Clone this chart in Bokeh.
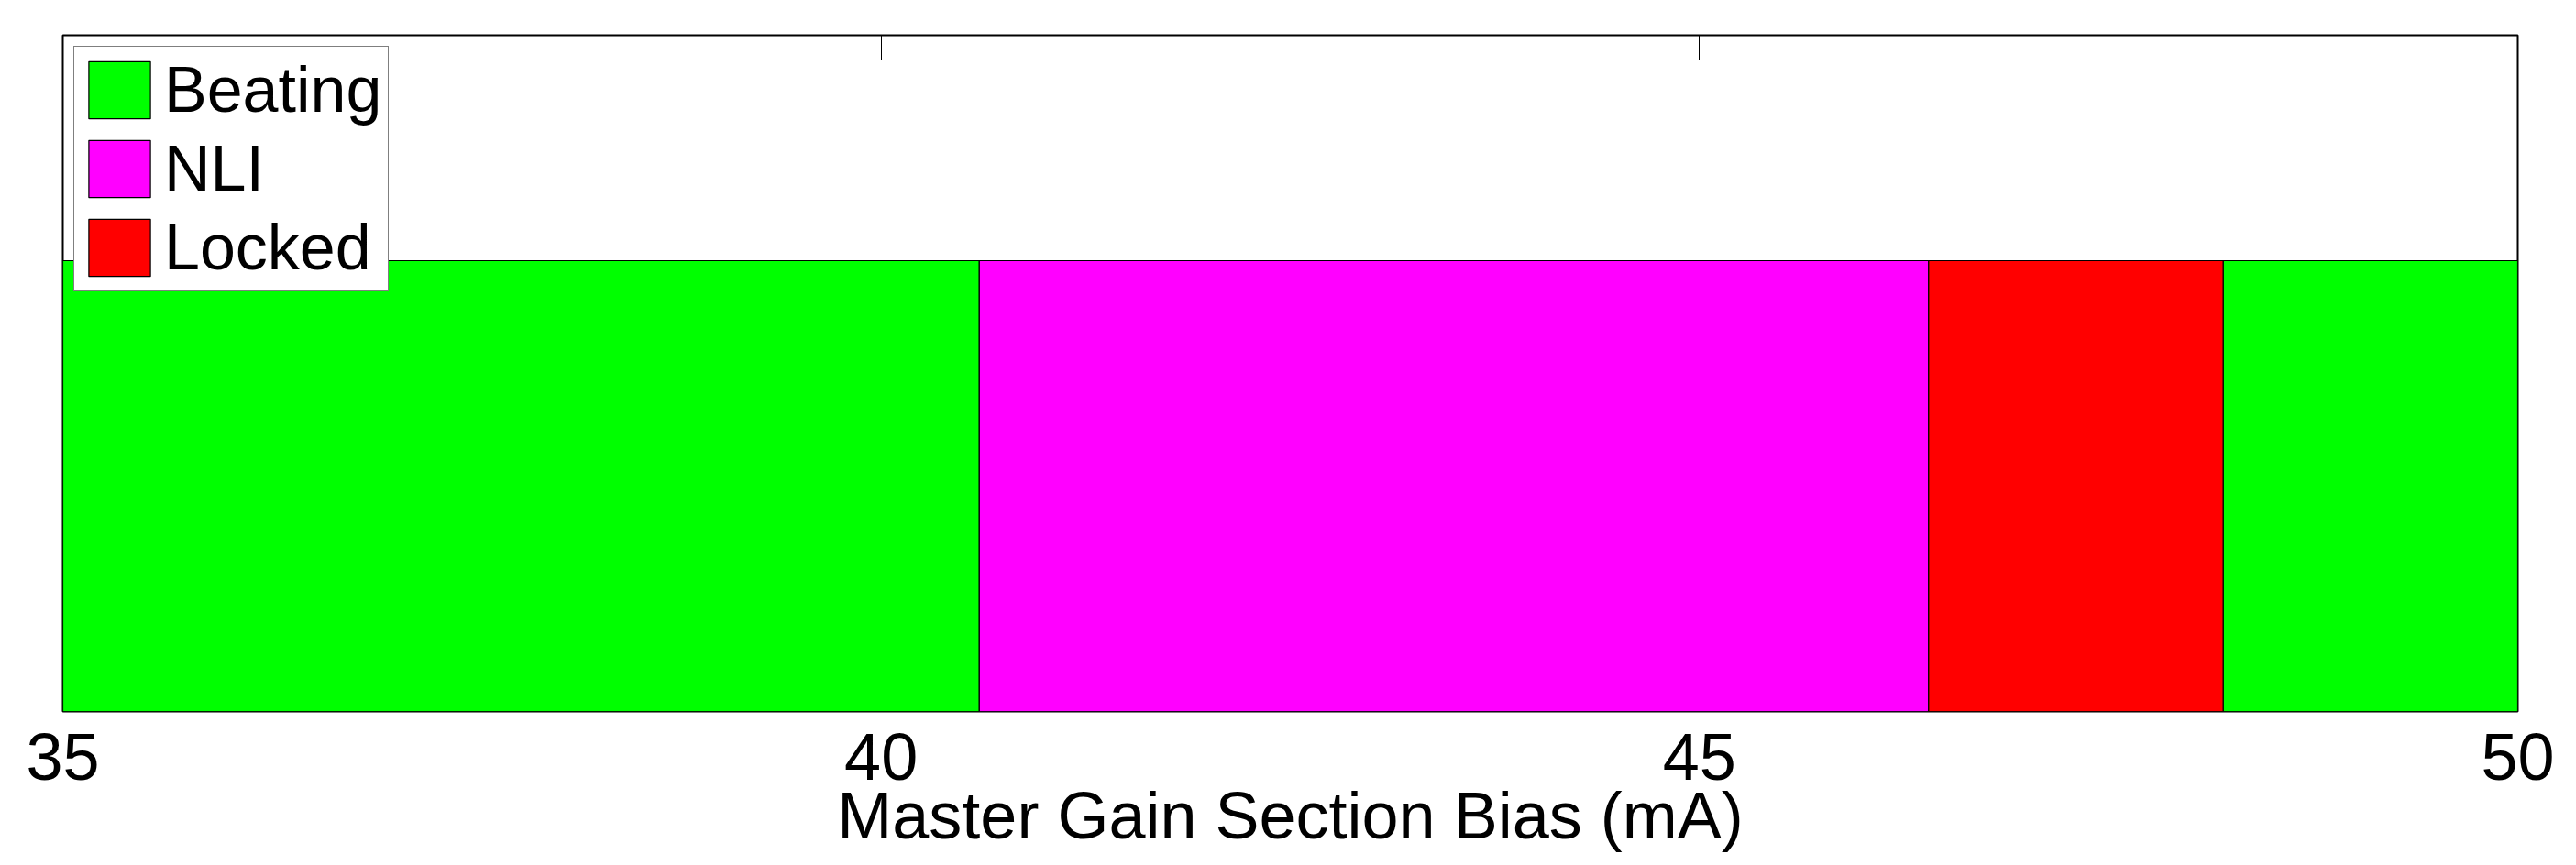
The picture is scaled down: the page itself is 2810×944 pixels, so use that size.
from bokeh.plotting import figure
from bokeh.models import Range1d, FixedTicker, LinearAxis, ColumnDataSource
from bokeh.embed import file_html
from bokeh.resources import INLINE

# Data
seg_start = [35.0, 40.6, 46.4, 48.2]
seg_end = [40.6, 46.4, 48.2, 50.0]
seg_state = ["Beating", "NLI", "Locked", "Beating"]
seg_level = [1, 1, 1, 1]
state_order = ["Beating", "NLI", "Locked"]
state_colors = {"Beating": "#00FF00", "NLI": "#FF00FF", "Locked": "#FF0000"}
x_ticks = [35, 40, 45, 50]
x_label = "Master Gain Section Bias (mA)"

FONT = "Liberation Sans"

p = figure(width=2794, height=936, x_range=Range1d(35, 50), y_range=Range1d(0, 1.5),
           output_backend="svg", toolbar_location=None, y_axis_location=None,
           min_border_left=68, min_border_right=48, min_border_top=38, min_border_bottom=160)
p.xgrid.visible = False
p.ygrid.visible = False
p.outline_line_color = "black"
p.outline_line_width = 2
p.background_fill_color = "white"
p.border_fill_color = "white"

for st in state_order:
    idx = [i for i, s in enumerate(seg_state) if s == st]
    src = ColumnDataSource(dict(
        left=[seg_start[i] for i in idx],
        right=[seg_end[i] for i in idx],
        bottom=[0] * len(idx),
        top=[seg_level[i] for i in idx],
    ))
    p.quad(left="left", right="right", bottom="bottom", top="top", source=src,
           fill_color=state_colors[st], line_color="black", line_width=1.2,
           legend_label=st)

ax = p.xaxis[0]
ax.ticker = FixedTicker(ticks=x_ticks)
ax.major_tick_in = 0
ax.major_tick_out = 0
ax.minor_tick_in = 0
ax.minor_tick_out = 0
ax.axis_line_color = None
ax.major_label_text_font = FONT
ax.major_label_text_font_size = "72px"
ax.major_label_text_color = "black"
ax.major_label_standoff = 24
ax.axis_label = x_label
ax.axis_label_text_font = FONT
ax.axis_label_text_font_size = "72px"
ax.axis_label_text_font_style = "normal"
ax.axis_label_text_color = "black"
ax.axis_label_standoff = -4

top = LinearAxis(ticker=FixedTicker(ticks=[40, 45]))
top.major_tick_in = 27
top.major_tick_out = 0
top.minor_tick_in = 0
top.minor_tick_out = 0
top.major_tick_line_color = "black"
top.major_tick_line_width = 1
top.axis_line_color = None
top.major_label_text_font_size = "1px"
top.major_label_text_alpha = 0
top.major_label_standoff = 0
p.add_layout(top, "above")

lg = p.legend[0]
lg.location = "top_left"
lg.margin = 12
lg.padding = 7
lg.spacing = 6
lg.glyph_width = 84
lg.glyph_height = 78
lg.label_standoff = 7
lg.label_text_font = FONT
lg.label_text_font_size = "70px"
lg.label_text_color = "black"
lg.label_height = 66
lg.border_line_color = "black"
lg.border_line_width = 1.5
lg.background_fill_color = "white"
lg.background_fill_alpha = 1

open("out.html", "w").write(file_html(p, INLINE))
